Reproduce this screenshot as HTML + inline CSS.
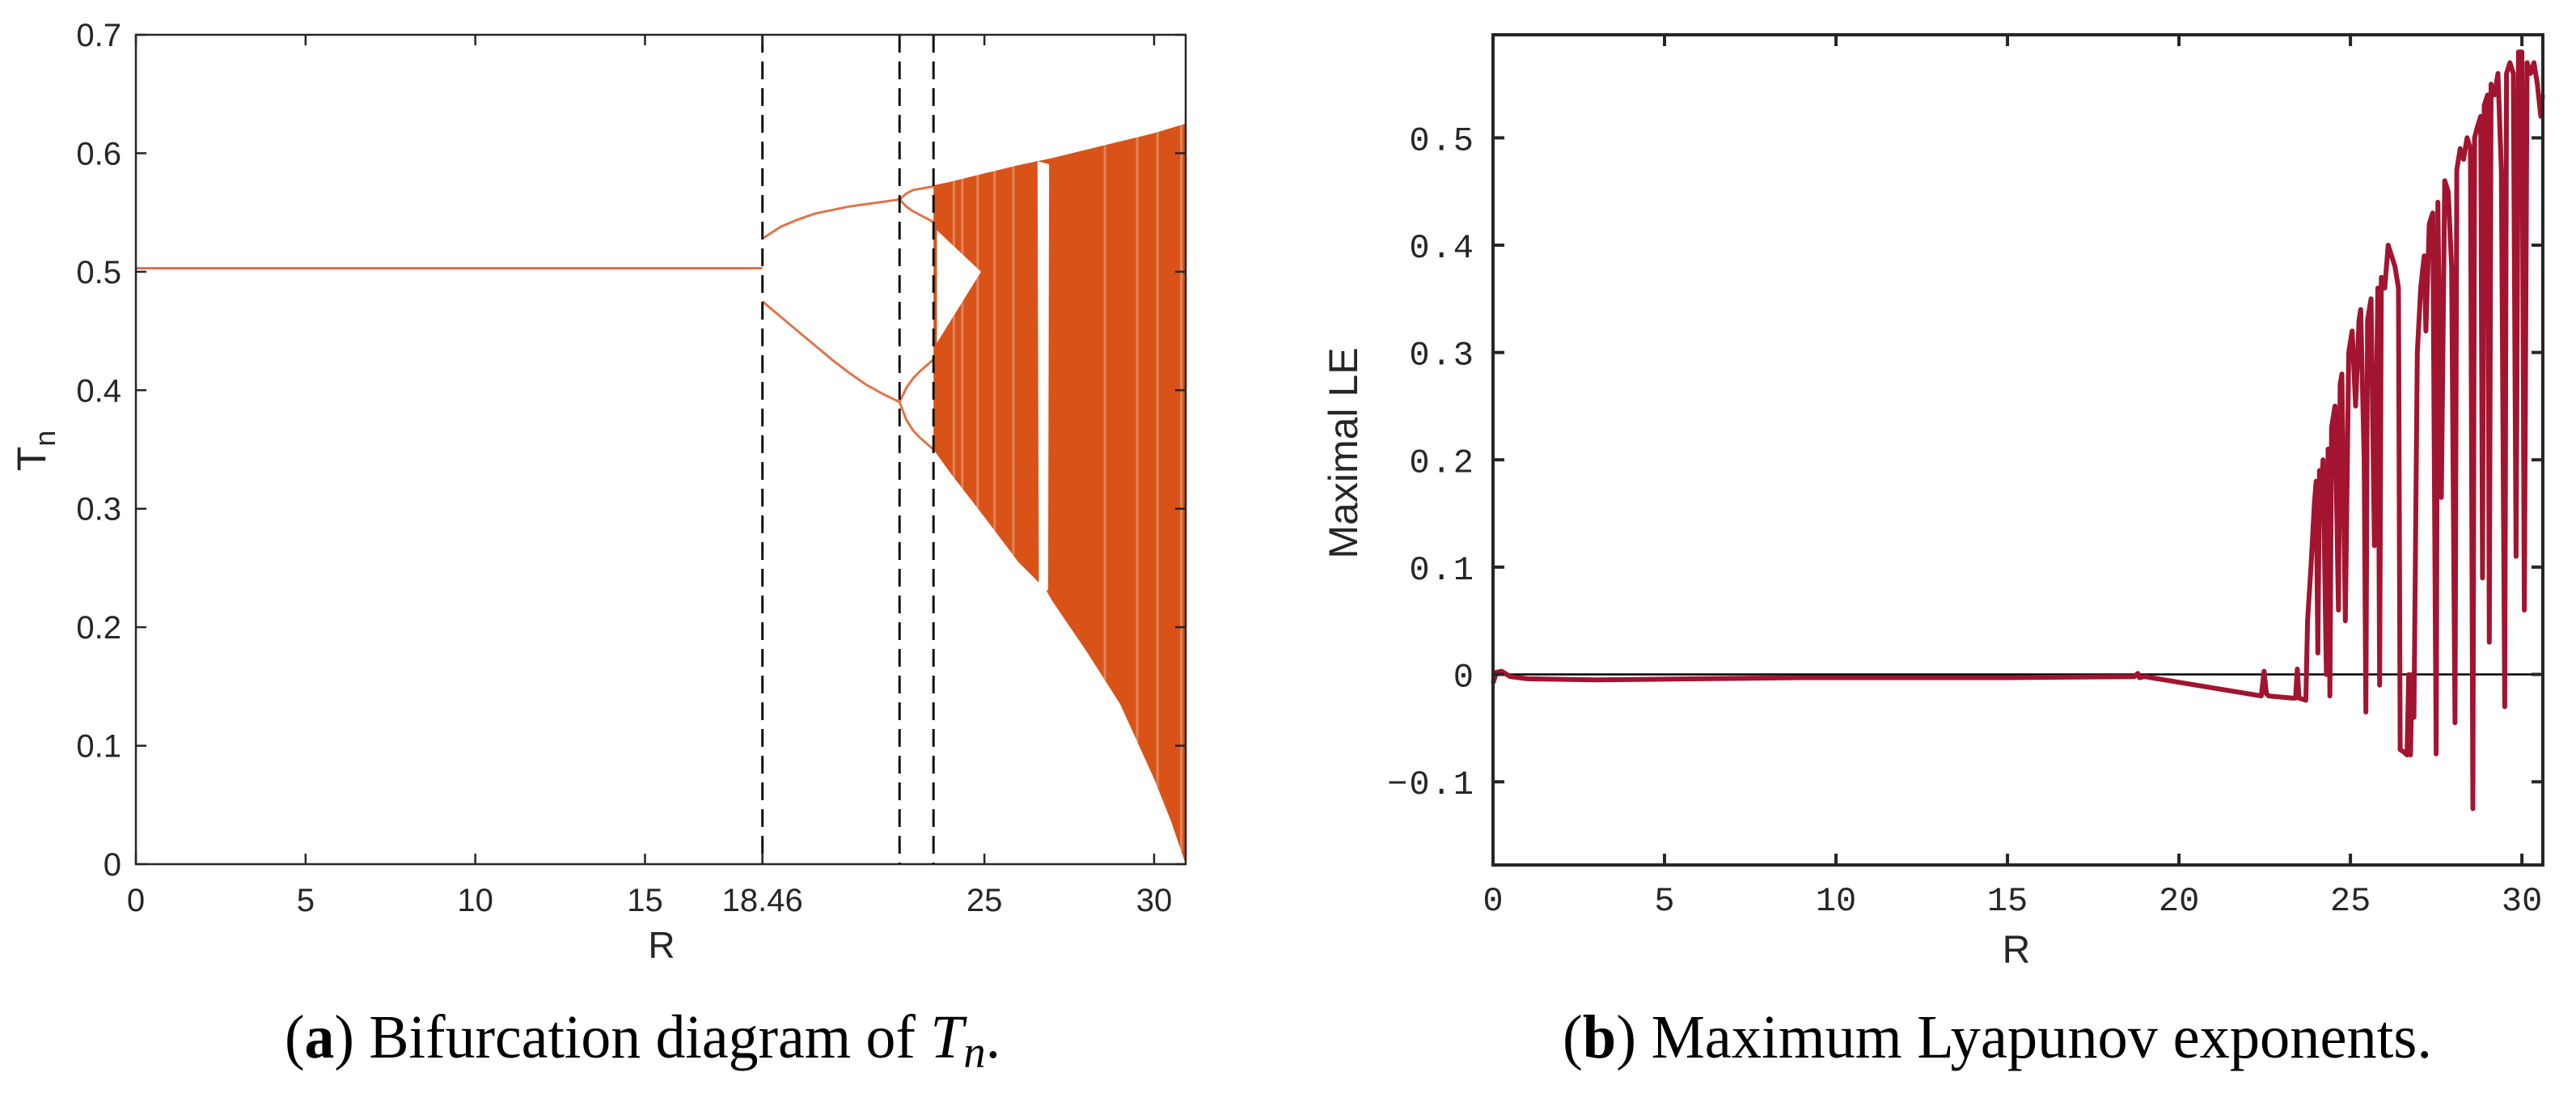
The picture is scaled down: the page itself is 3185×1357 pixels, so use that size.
<!DOCTYPE html>
<html><head><meta charset="utf-8"><style>
html,body{margin:0;padding:0;background:#fff;}
svg{display:block;}
</style></head><body>
<svg id="fig" width="3185" height="1357" viewBox="0 0 3185 1357" xmlns="http://www.w3.org/2000/svg">
<g id="left"></g>
<g id="right"></g>
<text x="352" y="1307" font-family="Liberation Serif, serif" font-size="76" fill="#000" textLength="885" lengthAdjust="spacingAndGlyphs">(<tspan font-weight="bold">a</tspan>) Bifurcation diagram of <tspan font-style="italic">T</tspan><tspan font-style="italic" font-size="56" dy="12">n</tspan><tspan dy="-12">.</tspan></text>
<text x="1932" y="1307" font-family="Liberation Serif, serif" font-size="76" fill="#000" textLength="1075" lengthAdjust="spacingAndGlyphs">(<tspan font-weight="bold">b</tspan>) Maximum Lyapunov exponents.</text>
</svg>
<script>
// ---------- Left panel data ----------
const bifXTicks = [0, 5, 10, 15, 18.46, 25, 30];
const bifXTickLabels = ["0", "5", "10", "15", "18.46", "25", "30"];
const bifYTicks = [0, 0.1, 0.2, 0.3, 0.4, 0.5, 0.6, 0.7];
const bifYTickLabels = ["0", "0.1", "0.2", "0.3", "0.4", "0.5", "0.6", "0.7"];
const bifDashedR = [18.46, 22.5, 23.5];
const fixedR = [0, 18.46];
const fixedT = [0.503, 0.503];
const p2R = [18.46, 19, 19.5, 20, 20.5, 21, 21.5, 22, 22.5];
const p2Upper = [0.528, 0.538, 0.544, 0.549, 0.552, 0.555, 0.557, 0.559, 0.561];
const p2Lower = [0.475, 0.462, 0.450, 0.438, 0.426, 0.415, 0.405, 0.397, 0.390];
const p4R = [22.5, 22.7, 22.9, 23.1, 23.3, 23.5];
const p4a = [0.561, 0.566, 0.569, 0.570, 0.571, 0.572];
const p4b = [0.561, 0.555, 0.551, 0.548, 0.545, 0.542];
const p4c = [0.390, 0.402, 0.410, 0.416, 0.421, 0.426];
const p4d = [0.390, 0.375, 0.366, 0.360, 0.355, 0.350];
const chaosUpR = [23.5, 24, 25, 26, 27, 28, 29, 30, 30.93];
const chaosUpT = [0.573, 0.576, 0.583, 0.590, 0.596, 0.603, 0.610, 0.617, 0.625];
const chaosLoR = [23.5, 24, 25, 26, 26.8, 27, 28, 29, 30, 30.5, 30.93];
const chaosLoT = [0.350, 0.330, 0.293, 0.255, 0.232, 0.222, 0.180, 0.135, 0.072, 0.036, 0.0];
const wedgeR = [23.6, 24.9, 23.6];
const wedgeT = [0.535, 0.50, 0.44];
const windowR = [26.6, 26.64, 26.84, 26.87];
const windowT = [0.592, 0.238, 0.232, 0.590];
const streakR = [24.1, 24.35, 24.8, 25.3, 25.85, 28.55, 29.5, 30.1, 30.8];

// ---------- Right panel data ----------
const leXTicks = [0, 5, 10, 15, 20, 25, 30];
const leXTickLabels = ["0", "5", "10", "15", "20", "25", "30"];
const leYTicks = [-0.1, 0, 0.1, 0.2, 0.3, 0.4, 0.5];
const leYTickLabels = ["\u22120.1", "0", "0.1", "0.2", "0.3", "0.4", "0.5"];
const leR = [0,0.1,0.25,0.5,1,3,9,15,18.7,18.8,18.85,19,22.4,22.48,22.55,22.62,23.3,23.4,23.45,23.5,23.7,23.75,23.85,23.95,24.0,24.05,24.1,24.15,24.2,24.3,24.35,24.4,24.45,24.55,24.65,24.7,24.75,24.85,24.95,25.05,25.15,25.25,25.3,25.4,25.45,25.5,25.6,25.7,25.8,25.85,25.9,26.0,26.1,26.2,26.3,26.4,26.45,26.55,26.65,26.7,26.75,26.8,26.85,26.95,27.05,27.15,27.2,27.3,27.4,27.5,27.55,27.65,27.75,27.85,27.95,28.05,28.1,28.2,28.3,28.4,28.5,28.57,28.62,28.7,28.8,28.85,28.9,29.0,29.05,29.1,29.2,29.3,29.4,29.5,29.55,29.65,29.75,29.83,29.9,30.0,30.07,30.15,30.25,30.35,30.45,30.55,30.6];
const leV = [-0.008,0.002,0.003,-0.002,-0.004,-0.005,-0.003,-0.003,-0.002,0.001,-0.003,-0.002,-0.02,0.003,-0.018,-0.02,-0.022,-0.022,0.005,-0.022,-0.024,0.05,0.1,0.16,0.18,0.02,0.19,0.16,0.2,0.0,0.21,-0.02,0.23,0.25,0.06,0.27,0.28,0.05,0.3,0.32,0.25,0.33,0.34,0.2,-0.035,0.33,0.35,0.12,0.36,-0.01,0.37,0.36,0.4,0.39,0.38,0.36,-0.07,-0.072,-0.075,0.0,-0.075,0.0,-0.04,0.3,0.36,0.39,0.32,0.42,0.43,-0.074,0.44,0.165,0.46,0.45,0.38,-0.045,0.47,0.49,0.48,0.5,0.49,-0.125,0.5,0.51,0.52,0.09,0.53,0.54,0.03,0.55,0.54,0.56,0.47,-0.03,0.56,0.57,0.56,0.11,0.58,0.58,0.06,0.57,0.56,0.57,0.55,0.52,0.54];

const NS = "http://www.w3.org/2000/svg";
function mk(parent, tag, attrs) {
  const el = document.createElementNS(NS, tag);
  for (const k in attrs) el.setAttribute(k, attrs[k]);
  parent.appendChild(el);
  return el;
}
const AX = "#262626";

// ===== Left panel =====
(function(){
  const g = document.getElementById('left');
  const L = 168, Rt = 1466, T = 43, B = 1068;
  const xMin = 0, xMax = 30.93, yMin = 0, yMax = 0.7;
  const X = r => L + (r - xMin) / (xMax - xMin) * (Rt - L);
  const Y = v => B - (v - yMin) / (yMax - yMin) * (B - T);
  const C = "#D95319";
  const poly = (rs, ts) => rs.map((r, i) => X(r).toFixed(1) + "," + Y(ts[i]).toFixed(1)).join(" ");

  const upPts = chaosUpR.map((r, i) => X(r).toFixed(1) + "," + Y(chaosUpT[i]).toFixed(1));
  const loPts = chaosLoR.map((r, i) => X(r).toFixed(1) + "," + Y(chaosLoT[i]).toFixed(1)).reverse();
  const band = mk(g, 'polygon', {points: upPts.concat(loPts).join(" "), fill: C});
  
  
  streakR.forEach(r => {
    let lo = 0;
    for (let i = 0; i < chaosLoR.length - 1; i++) {
      if (r >= chaosLoR[i] && r <= chaosLoR[i+1]) {
        const f = (r - chaosLoR[i]) / (chaosLoR[i+1] - chaosLoR[i]);
        lo = chaosLoT[i] + f * (chaosLoT[i+1] - chaosLoT[i]);
      }
    }
    const s = mk(g, 'line', {x1: X(r), x2: X(r), y1: Y(0.63), y2: Y(lo), stroke: "#fff", "stroke-width": 3, opacity: 0.28});
    
    
  });
  const wedge = mk(g, 'polygon', {points: poly(wedgeR, wedgeT), fill: "#fff"});
  
  
  const win = mk(g, 'polygon', {points: poly(windowR, windowT), fill: "#fff", "stroke": "#fff", "stroke-width": 3, "stroke-linejoin": "round"});
  
  

  const branches = [[fixedR, fixedT, 'fixed-point-branch'], [p2R, p2Upper, 'period2-upper'], [p2R, p2Lower, 'period2-lower'],
                    [p4R, p4a, 'period4-a'], [p4R, p4b, 'period4-b'], [p4R, p4c, 'period4-c'], [p4R, p4d, 'period4-d']];
  branches.forEach(b => {
    const pl = mk(g, 'polyline', {points: poly(b[0], b[1]), fill: "none", stroke: "#E2734A", "stroke-width": 3});
    
    
  });

  bifDashedR.forEach(r => {
    const d = mk(g, 'line', {x1: X(r), x2: X(r), y1: T, y2: B, stroke: "#111", "stroke-width": 3, "stroke-dasharray": "22 11"});
    
    
  });

  const box = mk(g, 'rect', {x: L, y: T, width: Rt - L, height: B - T, fill: "none", stroke: AX, "stroke-width": 2.5});
  
  

  bifXTicks.forEach((t, i) => {
    const tk = mk(g, 'path', {d: `M${X(t)},${B}v-13M${X(t)},${T}v13`, stroke: AX, "stroke-width": 2.5});
    
    
    const tx = mk(g, 'text', {x: X(t), y: 1126, "text-anchor": "middle", "font-family": "Liberation Sans, sans-serif", "font-size": 40, fill: AX});
    tx.textContent = bifXTickLabels[i];
    
    
  });
  bifYTicks.forEach((t, i) => {
    const tk = mk(g, 'path', {d: `M${L},${Y(t)}h13M${Rt},${Y(t)}h-13`, stroke: AX, "stroke-width": 2.5});
    
    
    const tx = mk(g, 'text', {x: 150, y: Y(t) + 14, "text-anchor": "end", "font-family": "Liberation Sans, sans-serif", "font-size": 40, fill: AX});
    tx.textContent = bifYTickLabels[i];
    
    
  });
  const xl = mk(g, 'text', {x: 818, y: 1184, "text-anchor": "middle", "font-family": "Liberation Sans, sans-serif", "font-size": 46, fill: AX});
  xl.textContent = "R";
  
  
  const yl = mk(g, 'text', {transform: "translate(56,557) rotate(-90)", "text-anchor": "middle", "font-family": "Liberation Sans, sans-serif", "font-size": 50, fill: AX});
  yl.innerHTML = 'T<tspan font-size="36" dy="12">n</tspan>';
  
  
})();

// ===== Right panel =====
(function(){
  const g = document.getElementById('right');
  const L = 1846, Rt = 3144, T = 43, B = 1069;
  const xMin = 0, xMax = 30.61, yMin = -0.1775, yMax = 0.596;
  const X = r => L + (r - xMin) / (xMax - xMin) * (Rt - L);
  const Y = v => B - (v - yMin) / (yMax - yMin) * (B - T);

  const zl = mk(g, 'line', {x1: L, x2: Rt, y1: Y(0), y2: Y(0), stroke: "#000", "stroke-width": 2.5});
  
  

  const pts = leR.map((r, i) => X(r).toFixed(1) + "," + Y(leV[i]).toFixed(1)).join(" ");
  const line = mk(g, 'polyline', {points: pts, fill: "none", stroke: "#A2142F", "stroke-width": 6, "stroke-linejoin": "round"});
  
  

  const box = mk(g, 'rect', {x: L, y: T, width: Rt - L, height: B - T, fill: "none", stroke: AX, "stroke-width": 4});
  
  

  leXTicks.forEach((t, i) => {
    const tk = mk(g, 'path', {d: `M${X(t)},${B}v-14M${X(t)},${T}v14`, stroke: AX, "stroke-width": 4});
    
    
    const tx = mk(g, 'text', {x: X(t), y: 1125, "text-anchor": "middle", "font-family": "Liberation Mono, monospace", "font-size": 42, fill: AX});
    tx.textContent = leXTickLabels[i];
    
    
  });
  leYTicks.forEach((t, i) => {
    const tk = mk(g, 'path', {d: `M${L},${Y(t)}h14M${Rt},${Y(t)}h-14`, stroke: AX, "stroke-width": 4});
    
    
    const tx = mk(g, 'text', {x: 1824, y: Y(t) + 15, "text-anchor": "end", "font-family": "Liberation Mono, monospace", "font-size": 42, fill: AX, "letter-spacing": "2"});
    tx.textContent = leYTickLabels[i];
    
    
  });
  const xl = mk(g, 'text', {x: 2493, y: 1190, "text-anchor": "middle", "font-family": "Liberation Sans, sans-serif", "font-size": 48, fill: AX});
  xl.textContent = "R";
  
  
  const yl = mk(g, 'text', {transform: "translate(1678,560) rotate(-90)", "text-anchor": "middle", "font-family": "Liberation Sans, sans-serif", "font-size": 50, fill: AX});
  yl.textContent = "Maximal LE";
  
  
})();
</script>
</body></html>
